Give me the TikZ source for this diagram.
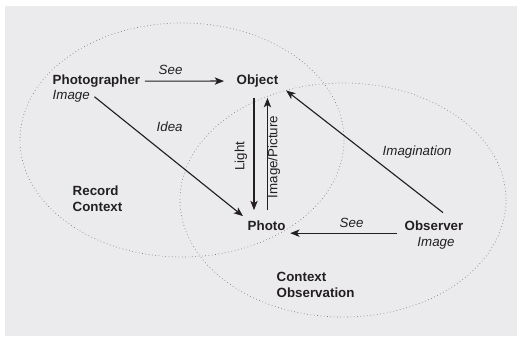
\documentclass[tikz,border=0pt]{standalone}
\usepackage{fontspec}
\setmainfont{Liberation Sans}
\usepackage{xcolor}
\usetikzlibrary{arrows.meta,positioning,calc}
\definecolor{panelgray}{RGB}{235,235,237}
\definecolor{inkdark}{RGB}{35,31,32}
\definecolor{dotgray}{RGB}{120,120,124}

\begin{document}
\begin{tikzpicture}[
    x=0.75pt, y=-0.75pt,
    actor/.style={font=\fontsize{10}{12}\selectfont\bfseries, text=inkdark, align=left},
    lbl/.style={font=\fontsize{10}{12}\selectfont\itshape, text=inkdark},
    side/.style={font=\fontsize{10}{12}\selectfont, text=inkdark},
    ctx/.style={draw=dotgray, line width=0.5pt, dotted},
    link/.style={draw=inkdark, line width=0.85pt, -{Stealth[length=7pt,width=5.5pt,inset=1.8pt]}},
]
    % Panel
    \useasboundingbox (0,0) rectangle (517,337);
    \fill[panelgray] (5,6) rectangle (517,336);

    % Contexts
    \draw[ctx] (182,140) ellipse [x radius=162, y radius=117];
    \draw[ctx] (343,200) ellipse [x radius=163, y radius=117];

    % Actors
    \node[actor, anchor=base west] (photographer) at (48,84.5) {Photographer};
    \node[lbl, anchor=base west] (phimage) at ([yshift=-11.6pt]photographer.base west) {Image};
    \node[actor, anchor=base west] (object) at (232,84.5) {Object};
    \node[actor, anchor=base west] (photo) at (243,230.5) {Photo};
    \node[actor, anchor=base west] (observer) at (400,230.5) {Observer};
    \node[lbl, anchor=base] (obsimage) at ([xshift=1.5pt,yshift=-12pt]observer.base) {Image};

    % Context labels (base = last line)
    \node[actor, anchor=base west] (record) at (68,211) {Record\\Context};
    \node[actor, anchor=base west] (observation) at (272,297) {Context\\Observation};

    % Arrows
    \draw[link, shorten >=6pt] (photographer.east) -- (object.west);
    \draw[link] (phimage.east) -- (photo.north west);
    \draw[link, shorten <=4.5pt, shorten >=4.5pt]
        ([xshift=-2.6pt]object.south) -- ([xshift=-2.6pt]object.south |- photo.north);
    \draw[link, shorten <=4.5pt, shorten >=4.5pt]
        ([xshift=7.5pt]object.south |- photo.north) -- ([xshift=7.5pt]object.south);
    \draw[link, shorten >=3pt]
        ([xshift=6.8pt,yshift=2.6pt]observer.north) -- ([yshift=3pt]object.south east);
    \draw[link, shorten <=2pt] ([yshift=-2pt]observer.base west) -- ([yshift=-2pt]photo.base east);

    % Arrow labels
    \node[lbl, anchor=base west] (seetop) at (154,74) {See};
    \node[lbl, anchor=base west] (idea) at (152,131.5) {Idea};
    \node[side, rotate=90] (light) at (241,156) {Light};
    \node[side, rotate=90] (picture) at (274,157) {Image/Picture};
    \node[lbl, anchor=base west] (imagination) at (378,155) {Imagination};
    \node[lbl, anchor=base west] (seebottom) at (335,227) {See};
\end{tikzpicture}
\end{document}
